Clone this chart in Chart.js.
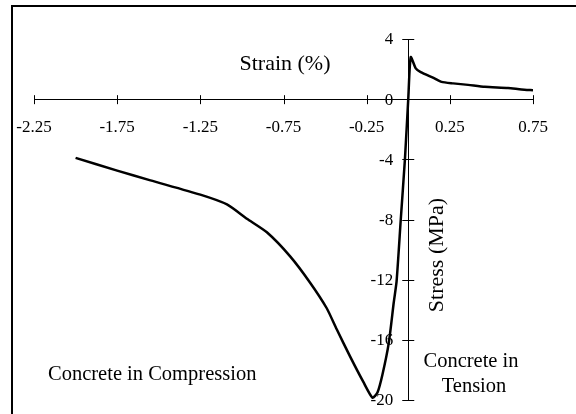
<!DOCTYPE html>
<html>
<head>
<meta charset="utf-8">
<script src="https://cdn.jsdelivr.net/npm/chart.js@4.4.1/dist/chart.umd.min.js"></script>
<style>
  html, body { margin: 0; padding: 0; background: #fff; }
  #wrap { width: 576px; height: 414px; }
</style>
</head>
<body>
<div id="wrap"><canvas id="chart"></canvas></div>
<script>
// strain (%) vs stress (MPa)
const strain = [-2.0, -1.75, -1.55, -1.25, -1.09, -0.97, -0.85, -0.71, -0.59, -0.49, -0.43, -0.35, -0.27, -0.215,
  -0.185, -0.155, -0.117, -0.087, -0.07, -0.045, -0.02, 0.0, 0.015, 0.045, 0.075, 0.155, 0.2, 0.27, 0.36, 0.46, 0.6, 0.68, 0.75];
const stress = [-3.9, -4.75, -5.4, -6.35, -7.0, -7.95, -8.85, -10.45, -12.2, -13.9, -15.3, -17.1, -18.8, -19.85,
  -19.5, -18.3, -16.2, -13.5, -12.1, -8.0, -4.0, 0.0, 2.8, 2.05, 1.8, 1.4, 1.15, 1.05, 0.95, 0.82, 0.75, 0.65, 0.6];

const xTicks = [-2.25, -1.75, -1.25, -0.75, -0.25, 0.25, 0.75];
const yTicks = [4, 0, -4, -8, -12, -16, -20];

const serif = "'Liberation Serif', 'Times New Roman', serif";
const ink = '#000';

// y tick labels sit left of the centred axis; drawn under the curve like the original
const yLabels = {
  id: 'yLabels',
  beforeDatasetsDraw(chart) {
    const { ctx, scales: { x, y } } = chart;
    const x0 = x.getPixelForValue(0);
    ctx.save();
    ctx.fillStyle = ink;
    ctx.font = `17px ${serif}`;
    ctx.textAlign = 'right';
    ctx.textBaseline = 'middle';
    yTicks.forEach(v => ctx.fillText(String(v), x0 - 15, y.getPixelForValue(v) + 1));
    ctx.restore();
  }
};

// outer frame, axis cross ticks and the free text labels
const decor = {
  id: 'decor',
  afterDraw(chart) {
    const { ctx, scales: { x, y } } = chart;
    ctx.save();
    ctx.strokeStyle = ink;
    ctx.lineWidth = 2;
    ctx.beginPath();
    ctx.moveTo(12, 414);
    ctx.lineTo(12, 6);
    ctx.lineTo(576, 6);
    ctx.stroke();

    ctx.lineWidth = 1;
    const y0 = y.getPixelForValue(0);
    const x0 = x.getPixelForValue(0);
    ctx.beginPath();
    xTicks.forEach(v => {
      const px = Math.round(x.getPixelForValue(v)) + 0.5;
      ctx.moveTo(px, y0 - 4);
      ctx.lineTo(px, y0 + 5);
    });
    yTicks.forEach(v => {
      const py = Math.round(y.getPixelForValue(v)) + 0.5;
      ctx.moveTo(x0 - 6, py);
      ctx.lineTo(x0 + 6, py);
    });
    ctx.stroke();

    ctx.fillStyle = ink;
    ctx.textBaseline = 'middle';
    ctx.textAlign = 'center';
    ctx.font = `22px ${serif}`;
    ctx.fillText('Strain (%)', 285, 64);
    ctx.font = `20.5px ${serif}`;
    ctx.fillText('Concrete in', 471, 362);
    ctx.fillText('Tension', 474, 387);
    ctx.textAlign = 'left';
    ctx.fillText('Concrete in Compression', 48, 375);

    ctx.font = `22px ${serif}`;
    ctx.translate(437, 255);
    ctx.rotate(-Math.PI / 2);
    ctx.textAlign = 'center';
    ctx.fillText('Stress (MPa)', 0, 0);
    ctx.restore();
  }
};

new Chart(document.getElementById('chart'), {
  type: 'scatter',
  data: {
    datasets: [{
      data: strain.map((s, i) => ({ x: s, y: stress[i] })),
      showLine: true,
      borderColor: ink,
      borderWidth: 2.5,
      pointRadius: 0,
      tension: 0.2,
    }],
  },
  options: {
    responsive: true,
    maintainAspectRatio: false,
    animation: false,
    layout: { padding: { left: 34, right: 43, top: 39, bottom: 14 } },
    plugins: { legend: { display: false }, tooltip: { enabled: false } },
    scales: {
      x: {
        type: 'linear',
        min: -2.25,
        max: 0.75,
        position: { y: 0 },
        afterBuildTicks: (s) => { s.ticks = xTicks.map(v => ({ value: v })); },
        afterFit: (s) => { s.height = 0; s.paddingLeft = 0; s.paddingRight = 0; },
        grid: { drawOnChartArea: false, drawTicks: false },
        border: { color: ink, width: 1 },
        ticks: {
          color: ink, padding: 18, font: { family: serif, size: 17 }, autoSkip: false, maxRotation: 0,
          callback: (v) => v.toFixed(2),
        },
      },
      y: {
        type: 'linear',
        min: -20,
        max: 4,
        position: { x: 0 },
        afterBuildTicks: (s) => { s.ticks = yTicks.map(v => ({ value: v })); },
        afterFit: (s) => { s.width = 0; s.paddingTop = 0; s.paddingBottom = 0; },
        grid: { drawOnChartArea: false, drawTicks: false },
        border: { color: ink, width: 1 },
        ticks: { display: false },
      },
    },
  },
  plugins: [yLabels, decor],
});
</script>
</body>
</html>
